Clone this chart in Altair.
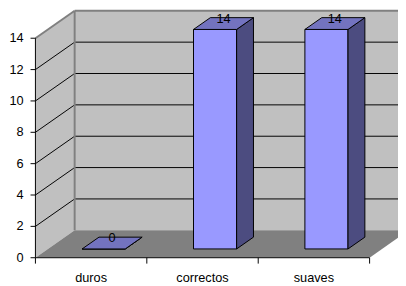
import altair as alt
import pandas as pd

# ---- data ----
categories = ["duros", "correctos", "suaves"]
values = [0, 14, 14]
y_ticks = [0, 2, 4, 6, 8, 10, 12, 14]
y_max = 14

# ---- 3D look parameters (in scale units) ----
DX = 0.352      # depth shift along x (category units)
DY = 1.75       # depth shift along y (value units)
BF, BB = 0.32, 0.75   # bar front / back depth fraction
BW = 0.387      # bar width (category units)
XMAX = 3.255
YTOP = y_max + DY
YTICK = 0.044   # y tick length (x units)
XTICK = 0.375   # x tick length (y units)
n = len(categories)

FONT = "Liberation Sans"
xs = alt.Scale(domain=[0, XMAX], nice=False, zero=False)
ys = alt.Scale(domain=[0, YTOP], nice=False, zero=False)


def X(field="x"):
    return alt.X(f"{field}:Q", scale=xs, axis=None)


def Y(field="y"):
    return alt.Y(f"{field}:Q", scale=ys, axis=None)


def segs(rows, color, width):
    return alt.Chart(pd.DataFrame(rows)).mark_rule(color=color, strokeWidth=width).encode(
        x=X(), x2="x2:Q", y=Y(), y2="y2:Q")


# side wall (left)
side_wall = pd.DataFrame([
    {"x": 0, "y": 0, "y2": y_max},
    {"x": DX, "y": DY, "y2": y_max + DY},
])
l_side_wall = alt.Chart(side_wall).mark_area(fill="#C0C0C0").encode(
    x=X(), y=Y(), y2="y2:Q")

# back wall
back_wall = pd.DataFrame([{"x": DX, "x2": XMAX, "y": DY, "y2": YTOP}])
l_back_wall = alt.Chart(back_wall).mark_rect(fill="#C0C0C0").encode(
    x=X(), x2="x2:Q", y=Y(), y2="y2:Q")

# floor
floor = pd.DataFrame([
    {"y": 0, "x": 0, "x2": n},
    {"y": DY, "x": DX, "x2": n + DX},
])
l_floor = alt.Chart(floor).mark_area(orient="horizontal", fill="#808080", clip=True).encode(
    y=Y(), x=X(), x2="x2:Q")

# gridlines
l_grid_back = segs([{"x": DX, "x2": XMAX, "y": v + DY, "y2": v + DY} for v in y_ticks[1:-1]],
                   "black", 1)
l_grid_side = segs([{"x": 0, "x2": DX, "y": v, "y2": v + DY} for v in y_ticks[1:-1]],
                   "black", 1)

# wall borders
l_borders = segs([
    {"x": DX, "x2": DX, "y": DY, "y2": YTOP},
    {"x": DX, "x2": XMAX, "y": YTOP, "y2": YTOP},
    {"x": 0, "x2": DX, "y": y_max, "y2": YTOP},
], "#808080", 2)

# axis lines and ticks
axis_rows = [
    {"x": 0, "x2": 0, "y": 0, "y2": y_max},
    {"x": 0, "x2": n, "y": 0, "y2": 0},
]
axis_rows += [{"x": -YTICK, "x2": 0, "y": v, "y2": v} for v in y_ticks]
axis_rows += [{"x": i, "x2": i, "y": 0, "y2": -XTICK} for i in range(n + 1)]
l_axis = segs(axis_rows, "black", 1)

ytl = pd.DataFrame([{"x": -YTICK, "y": v, "t": str(v)} for v in y_ticks])
l_ytl = alt.Chart(ytl).mark_text(
    align="right", baseline="middle", dx=-7, fontSize=13, font=FONT, color="black").encode(
    x=X(), y=Y(), text="t:N")

# bars
front_rows, side_rows, top_rows, lab_rows = [], [], [], []
for i, (c, v) in enumerate(zip(categories, values)):
    x0 = i + 0.5 - BW / 2
    front_rows.append({"cat": c, "x": x0 + BF * DX, "x2": x0 + BW + BF * DX,
                       "y": BF * DY, "y2": v + BF * DY})
    for d in (BF, BB):
        side_rows.append({"cat": c, "x": x0 + BW + d * DX, "y": v + d * DY, "y2": d * DY})
        top_rows.append({"cat": c, "y": v + d * DY, "x": x0 + d * DX, "x2": x0 + BW + d * DX})
    dm = (BF + BB) / 2
    lab_rows.append({"cat": c, "x": i + 0.5 + dm * DX, "y": v + dm * DY, "t": str(v)})

l_front = alt.Chart(pd.DataFrame(front_rows)).mark_rect(
    fill="#9999FF", stroke="black", strokeWidth=1).encode(x=X(), x2="x2:Q", y=Y(), y2="y2:Q")
l_side = alt.Chart(pd.DataFrame(side_rows)).mark_area(
    fill="#4C4C80", stroke="black", strokeWidth=1).encode(
    x=X(), y=Y(), y2="y2:Q", detail="cat:N")
l_top = alt.Chart(pd.DataFrame(top_rows)).mark_area(
    orient="horizontal", fill="#7373BF", stroke="black", strokeWidth=1).encode(
    y=Y(), x=X(), x2="x2:Q", detail="cat:N")
l_vals = alt.Chart(pd.DataFrame(lab_rows)).mark_text(
    baseline="alphabetic", dy=-1, fontSize=13, font=FONT, color="black").encode(
    x=X(), y=Y(), text="t:N")

cat_df = pd.DataFrame([{"x": i + 0.5, "y": 0, "t": c} for i, c in enumerate(categories)])
l_cats = alt.Chart(cat_df).mark_text(
    baseline="alphabetic", dy=25, fontSize=13, font=FONT, color="black").encode(
    x=X(), y=Y(), text="t:N")

chart = alt.layer(
    l_side_wall, l_back_wall, l_floor, l_grid_back, l_grid_side, l_borders, l_axis, l_ytl,
    l_front, l_side, l_top, l_vals, l_cats
).properties(
    width=370, height=252,
    padding={"left": 28, "top": 0, "right": 0, "bottom": 26},
    autosize=alt.AutoSizeParams(type="none"),
    background="white",
).configure_view(stroke=None)

chart.save("out.html", embed_options={"renderer": "svg", "actions": False})
